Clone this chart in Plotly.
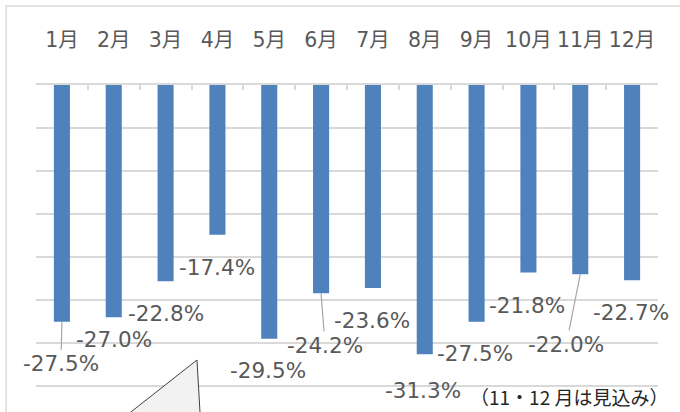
import plotly.graph_objects as go

months = ["1月", "2月", "3月", "4月", "5月", "6月", "7月", "8月", "9月", "10月", "11月", "12月"]
values = [-27.5, -27.0, -22.8, -17.4, -29.5, -24.2, -23.6, -31.3, -27.5, -21.8, -22.0, -22.7]
labels = ["-27.5%", "-27.0%", "-22.8%", "-17.4%", "-29.5%", "-24.2%", "-23.6%", "-31.3%", "-27.5%", "-21.8%", "-22.0%", "-22.7%"]
note = "（11・12 月は見込み）"

# label placement styles: (xshift, yshift) for plain labels; (ax, ay) for leader-line labels
label_style = [
    ("arrow", -1, 42),
    ("plain", 0, -22),
    ("plain", 0, -32),
    ("plain", 0, -33),
    ("plain", -1, -32),
    ("arrow", 4, 52),
    ("plain", -1, -32),
    ("plain", -2, -36),
    ("plain", -2, -32),
    ("plain", -1, -33),
    ("arrow", -14, 70),
    ("plain", -1, -32),
]

FONT = "Verdana, DejaVu Sans, Noto Sans CJK JP"
TXT = "#595959"
GRID = "#D9D9D9"

fig = go.Figure(go.Bar(
    x=months, y=values,
    marker=dict(color="#4F81BD", line=dict(width=0)),
    hoverinfo="skip",
))

anns = []
for m, v, lab, st in zip(months, values, labels, label_style):
    kind, a, b = st
    if kind == "plain":
        anns.append(dict(x=m, y=v, text=lab, showarrow=False, xshift=a, yshift=b,
                         font=dict(size=21.5, color=TXT, family=FONT)))
    else:
        anns.append(dict(x=m, y=v, text=lab, showarrow=True, arrowhead=0, arrowwidth=1.2,
                         arrowcolor="#A6A6A6", ax=a, ay=b,
                         font=dict(size=21.5, color=TXT, family=FONT)))

anns.append(dict(xref="paper", yref="paper", x=1.019, y=0.046, xanchor="right", yanchor="middle",
                 text=note, showarrow=False,
                 font=dict(size=19, color="#262626", family="Noto Sans CJK JP")))

shapes = [
    dict(type="rect", xref="paper", yref="paper", x0=-0.048, x1=1.2, y0=-0.2, y1=1.2416,
         line=dict(color=GRID, width=1.5), fillcolor="rgba(0,0,0,0)", layer="below"),
    dict(type="path", xref="paper", yref="paper",
         path="M 0.2588 0.159 L 0.1158 -0.055 L 0.2653 -0.055 Z",
         fillcolor="#F2F2F2", line=dict(color="#404040", width=1), layer="above"),
]

fig.update_layout(
    width=680, height=412,
    margin=dict(l=36, r=22, t=85, b=0),
    paper_bgcolor="white", plot_bgcolor="white",
    showlegend=False,
    bargap=0.69,
    annotations=anns,
    shapes=shapes,
    xaxis=dict(type="category", side="top", range=[-0.5, 11.5], autorange=False,
               showline=True, linecolor=GRID, linewidth=1.5,
               ticks="inside", ticklen=5, tickcolor=GRID, tickwidth=1.5, tickson="boundaries",
               ticklabelstandoff=28, tickangle=0, automargin=False,
               tickfont=dict(size=20.5, color=TXT, family=FONT),
               showgrid=False, zeroline=False),
    yaxis=dict(range=[-38, 0], autorange=False, dtick=5, showgrid=True, gridcolor=GRID, gridwidth=1.5,
               showticklabels=False, zeroline=False, showline=False, ticks="", automargin=False),
)

fig.write_html("out.html", config={"displayModeBar": False},
               post_script="document.body.style.margin='0';")
